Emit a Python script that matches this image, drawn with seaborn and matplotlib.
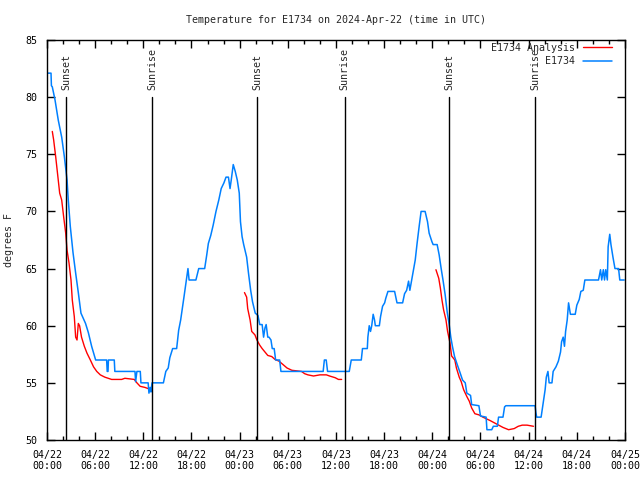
import matplotlib

matplotlib.use("Agg")

import matplotlib.pyplot as plt
import pandas as pd
import seaborn as sns
from matplotlib.lines import Line2D
from matplotlib.ticker import MultipleLocator

# hours since 04/22 00:00 UTC
station_hours = [
    0.12, 0.5, 0.55, 0.66, 1.0, 1.4, 1.83, 2.16, 2.5, 2.65, 2.9, 3.24, 3.57, 3.9, 4.23, 4.8,
    5.15, 5.56, 6.06, 7.43, 7.5, 7.6, 7.65, 8.38, 8.45, 10.96, 11.04, 11.2, 11.62, 11.7, 12.6,
    12.7, 12.85, 12.95, 13.08, 14.5, 14.8, 15.1, 15.3, 15.65, 16.15, 16.4, 16.65, 16.9, 17.06,
    17.3, 17.56, 17.7, 18.55, 18.9, 19.64, 19.9, 20.1, 20.4, 20.7, 21.05, 21.4, 21.7, 22.04,
    22.3, 22.6, 22.8, 22.95, 23.2, 23.45, 23.7, 23.95, 24.1, 24.3, 24.5, 24.87, 25.1, 25.37,
    25.6, 25.94, 26.28, 26.5, 26.8, 26.98, 27.15, 27.3, 27.5, 27.65, 27.9, 28.06, 28.3, 28.48,
    28.98, 29.14, 34.4, 34.55, 34.78, 34.95, 37.65, 37.9, 39.15, 39.3, 39.9, 39.97, 40.14,
    40.3, 40.45, 40.63, 40.8, 40.9, 41.4, 41.55, 41.8, 42.06, 42.2, 42.47, 43.3, 43.6, 44.3,
    44.54, 44.8, 45.04, 45.2, 45.4, 45.6, 45.87, 46.1, 46.36, 46.6, 47.1, 47.4, 47.6, 47.95,
    48.1, 48.6, 48.85, 49.1, 49.35, 49.6, 49.85, 50.1, 50.3, 50.5, 50.77, 51.1, 51.4, 51.76,
    52.1, 52.3, 52.76, 52.9, 53.8, 54.0, 54.7, 54.8, 55.4, 55.6, 56.1, 56.25, 56.8, 57.0,
    57.16, 60.8, 60.9, 61.0, 61.55, 61.8, 62.05, 62.2, 62.4, 62.55, 62.9, 63.05, 63.4, 63.7,
    63.97, 64.1, 64.3, 64.46, 64.6, 64.8, 64.97, 65.2, 65.8, 66.0, 66.3, 66.5, 66.8, 67.0,
    68.7, 68.95, 69.1, 69.3, 69.45, 69.6, 69.8, 69.9, 70.1, 70.25, 70.5, 70.75, 71.2, 71.35,
    71.9,
]
station_temps = [
    82.1, 82.1, 81.0, 80.9, 79.75, 78.0, 76.5, 74.8, 72.75, 71.0, 68.7, 66.4, 64.6, 62.9, 61.1,
    60.2, 59.4, 58.2, 57.0, 57.0, 56.0, 56.0, 57.0, 57.0, 56.0, 56.0, 55.1, 56.0, 56.0, 55.0,
    55.0, 54.1, 54.6, 54.2, 55.0, 55.0, 56.0, 56.3, 57.2, 58.0, 58.0, 59.6, 60.5, 61.7, 62.5,
    63.7, 65.0, 64.0, 64.0, 65.0, 65.0, 66.2, 67.2, 67.9, 68.8, 70.0, 71.0, 72.0, 72.5, 73.0,
    73.0, 72.0, 72.75, 74.1, 73.5, 72.75, 71.6, 69.1, 67.8, 67.1, 66.0, 64.6, 63.1, 62.1,
    61.1, 60.9, 60.1, 60.1, 59.0, 59.8, 60.1, 59.0, 59.0, 58.75, 58.0, 58.0, 57.0, 57.0, 56.0,
    56.0, 57.0, 57.0, 56.0, 56.0, 57.0, 57.0, 58.0, 58.0, 59.0, 60.0, 59.5, 60.0, 61.0, 60.5,
    60.0, 60.0, 60.8, 61.7, 62.0, 62.4, 63.0, 63.0, 62.0, 62.0, 62.8, 63.1, 63.9, 63.1, 63.9,
    64.7, 65.75, 67.2, 68.7, 70.0, 70.0, 69.1, 68.1, 67.35, 67.1, 67.1, 66.2, 65.0, 63.9,
    62.7, 61.2, 60.1, 59.0, 58.2, 57.3, 56.6, 56.0, 55.25, 55.0, 54.1, 53.9, 53.1, 53.0, 52.1,
    52.0, 50.9, 50.9, 51.2, 51.2, 52.0, 52.0, 52.9, 53.0, 53.0, 52.4, 52.0, 52.0, 53.2, 54.4,
    55.5, 56.0, 55.0, 55.0, 56.0, 56.4, 56.9, 57.7, 58.6, 59.0, 58.2, 59.5, 60.5, 62.0, 61.0,
    61.0, 61.8, 62.3, 63.0, 63.1, 64.0, 64.0, 64.9, 64.0, 64.9, 64.0, 64.9, 64.0, 66.9, 68.0,
    67.1, 66.0, 65.0, 65.0, 64.0, 64.0,
]

analysis_hours_1 = [
    0.66, 0.83, 1.08, 1.33, 1.58, 1.83, 2.08, 2.33, 2.5, 2.74, 2.99, 3.15, 3.4, 3.57, 3.74,
    3.9, 4.06, 4.3, 4.65, 4.98, 5.4, 5.8, 6.2, 6.64, 7.2, 8.05, 9.3, 9.7, 10.87, 11.2, 11.6,
    12.2, 12.6,
]
analysis_temps_1 = [
    77.0, 76.25, 74.8, 73.2, 71.6, 71.0, 69.5, 68.1, 66.6, 65.5, 64.0, 62.25, 60.8, 59.0, 58.75,
    60.2, 60.0, 59.0, 58.2, 57.6, 57.0, 56.4, 56.0, 55.7, 55.5, 55.3, 55.3, 55.4, 55.3, 55.0,
    54.7, 54.6, 54.5,
]
analysis_hours_2 = [
    24.6, 24.87, 25.0, 25.3, 25.5, 25.9, 26.15, 26.5, 26.8, 27.15, 27.5, 28.0, 28.4, 28.9,
    29.4, 29.9, 30.5, 31.1, 31.7, 32.1, 32.5, 33.2, 34.0, 34.8, 35.2, 35.9, 36.3, 36.7,
]
analysis_temps_2 = [
    62.9, 62.5, 61.5, 60.5, 59.5, 59.2, 58.75, 58.3, 58.0, 57.7, 57.4, 57.3, 57.05, 56.9,
    56.6, 56.3, 56.1, 56.05, 56.0, 55.8, 55.7, 55.6, 55.7, 55.7, 55.6, 55.45, 55.3, 55.3,
]
analysis_hours_3 = [
    48.45, 48.8, 49.0, 49.2, 49.4, 49.7, 49.9, 50.2, 50.4, 50.8, 51.0, 51.35, 51.6, 51.9,
    52.3, 52.6, 52.9, 53.3, 53.8, 54.3, 55.2, 56.0, 56.8, 57.5, 58.2, 58.7, 59.2, 59.8, 60.6,
]
analysis_temps_3 = [
    64.9, 64.15, 63.3, 62.25, 61.4, 60.5, 59.5, 58.5, 57.35, 57.0, 56.3, 55.5, 55.1, 54.4,
    53.8, 53.4, 52.8, 52.3, 52.2, 52.0, 51.7, 51.4, 51.1, 50.9, 51.0, 51.2, 51.3, 51.3, 51.2,
]

sunset_hours = [2.4, 26.2, 50.1]
sunrise_hours = [13.1, 37.1, 60.8]

tick_hours = list(range(0, 73, 6))
tick_labels = [
    "04/22\n00:00", "04/22\n06:00", "04/22\n12:00", "04/22\n18:00",
    "04/23\n00:00", "04/23\n06:00", "04/23\n12:00", "04/23\n18:00",
    "04/24\n00:00", "04/24\n06:00", "04/24\n12:00", "04/24\n18:00",
    "04/25\n00:00",
]

STATION_COLOR = "#0080ff"
ANALYSIS_COLOR = "#ff0000"
FONT_SIZE = 7.2

sns.set_style("ticks")
plt.rcParams["font.family"] = ["DejaVu Sans Mono"]

station = pd.DataFrame({"hour": station_hours, "temp": station_temps})
analysis = pd.concat(
    [
        pd.DataFrame({"hour": hrs, "temp": tmp, "segment": idx})
        for idx, (hrs, tmp) in enumerate(
            [
                (analysis_hours_1, analysis_temps_1),
                (analysis_hours_2, analysis_temps_2),
                (analysis_hours_3, analysis_temps_3),
            ]
        )
    ],
    ignore_index=True,
)

fig = plt.figure(figsize=(6.4, 4.8), dpi=100)
ax = fig.add_axes([47 / 640, 40 / 480, 578 / 640, 400 / 480])

sns.lineplot(
    data=analysis, x="hour", y="temp", units="segment", estimator=None,
    color=ANALYSIS_COLOR, linewidth=1.0, sort=False, ax=ax,
)
sns.lineplot(
    data=station, x="hour", y="temp", estimator=None,
    color=STATION_COLOR, linewidth=1.1, sort=False, ax=ax,
)

for label, hours in (("Sunset", sunset_hours), ("Sunrise", sunrise_hours)):
    for hour in hours:
        ax.plot([hour, hour], [50, 80], color="black", linewidth=1.0)
        ax.text(hour, 80.6, label, rotation=90, ha="center", va="bottom", fontsize=FONT_SIZE)

ax.set_xlim(0, 72)
ax.set_ylim(50, 85)
ax.set_xticks(tick_hours)
ax.set_xticklabels(tick_labels)
ax.xaxis.set_minor_locator(MultipleLocator(2))
ax.yaxis.set_major_locator(MultipleLocator(5))
ax.tick_params(which="both", direction="in", top=True, right=True, labelsize=FONT_SIZE, colors="black")
ax.tick_params(which="major", length=6, width=1.0)
ax.tick_params(axis="x", which="major", pad=7)
ax.tick_params(axis="y", which="major", pad=7)
ax.tick_params(which="minor", length=3, width=1.0)
for spine in ax.spines.values():
    spine.set_visible(True)
    spine.set_linewidth(1.0)
    spine.set_color("black")

ax.set_xlabel("")
ax.set_ylabel("degrees F", fontsize=FONT_SIZE, labelpad=8)
ax.set_title("Temperature for E1734 on 2024-Apr-22 (time in UTC)", fontsize=FONT_SIZE, pad=12)

handles = [
    Line2D([], [], color=ANALYSIS_COLOR, linewidth=1.0),
    Line2D([], [], color=STATION_COLOR, linewidth=1.1),
]
ax.legend(
    handles, ["E1734 Analysis", "E1734"], loc="upper right", frameon=False,
    markerfirst=False, fontsize=FONT_SIZE, handlelength=2.9, handletextpad=0.8,
    labelspacing=0.35, borderaxespad=0.0, borderpad=0.3,
    bbox_to_anchor=(1 - 10 / 578, 1.0),
)

fig.savefig("out.png", dpi=100)
